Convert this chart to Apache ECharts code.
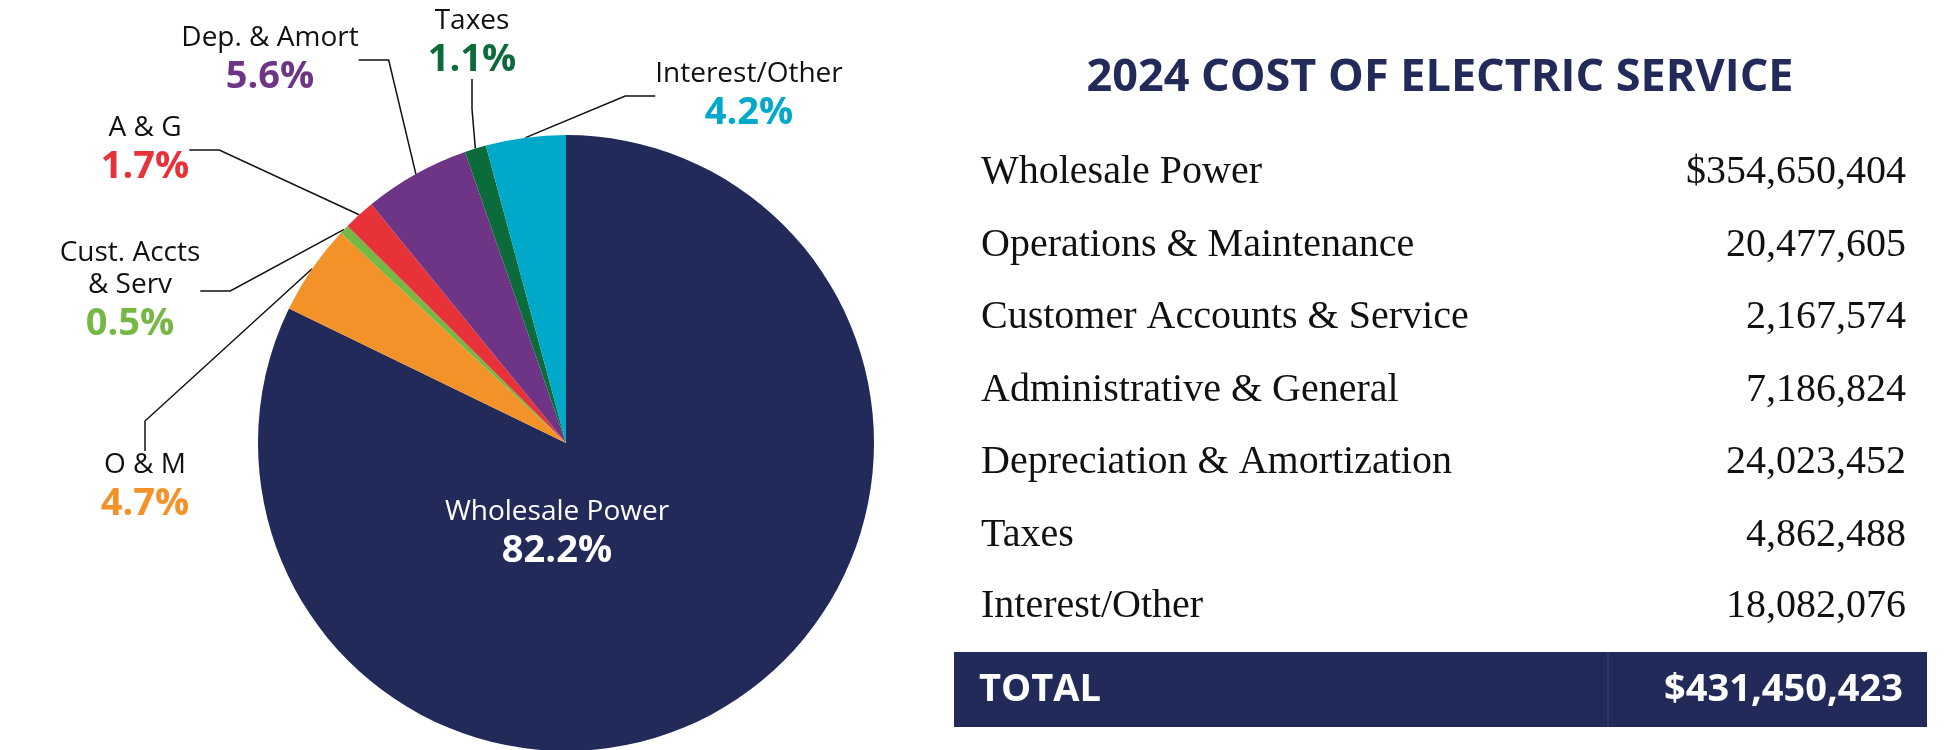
<!DOCTYPE html>
<html>
<head>
<meta charset="utf-8" />
<title>2024 Cost of Electric Service</title>
<script src="https://cdn.jsdelivr.net/npm/echarts@6/dist/echarts.min.js"></script>
<style>
  * { margin: 0; padding: 0; }
  body { background: #fff; }
  #main { width: 1950px; height: 750px; }
</style>
</head>
<body>
<div id="main"></div>
<script>
  // data
  var shortNames = ['Wholesale Power', 'O & M', 'Cust. Accts\n& Serv', 'A & G', 'Dep. & Amort', 'Taxes', 'Interest/Other'];
  var fullNames = ['Wholesale Power', 'Operations & Maintenance', 'Customer Accounts & Service', 'Administrative & General', 'Depreciation & Amortization', 'Taxes', 'Interest/Other'];
  var amounts = [354650404, 20477605, 2167574, 7186824, 24023452, 4862488, 18082076];
  var amountLabels = ['$354,650,404', '20,477,605', '2,167,574', '7,186,824', '24,023,452', '4,862,488', '18,082,076'];
  var totalLabel = '$431,450,423';
  var colors = ['#222a5a', '#f39229', '#76b843', '#e8323a', '#6e3587', '#0b6b3a', '#00a9c9'];

  // where each slice label sits
  var labelPos = [[557, 535], [145, 488], [130, 292], [145, 151], [270, 61], [472, 44], [749, 97]];

  var chart = echarts.init(document.getElementById('main'));
  var total = amounts.reduce(function (a, b) { return a + b; }, 0);

  var pieData = amounts.map(function (v, i) {
    var item = { name: shortNames[i], value: v, itemStyle: { color: colors[i] } };
    if (i === 0) {
      item.label = { color: '#fff', rich: { n: { color: '#fff' }, p: { color: '#fff' } } };
      item.labelLine = { show: false };
    }
    return item;
  });

  var graphics = [{
    type: 'text', left: 1440 - 0, top: 50,
    style: { text: '2024 COST OF ELECTRIC SERVICE', x: 0, y: 0, textAlign: 'center',
      font: 'bold 45px "Open Sans"', fill: '#222a5a' },
    position: [0, 0]
  }];
  graphics = [{
    type: 'text', x: 1440, y: 78,
    style: { text: '2024 COST OF ELECTRIC SERVICE', align: 'center', verticalAlign: 'middle',
      font: 'bold 45px "Open Sans"', fill: '#222a5a' }
  }];
  var rowY = [172, 245, 317, 390, 462, 535, 606];
  fullNames.forEach(function (n, i) {
    graphics.push({ type: 'text', x: 981, y: rowY[i],
      style: { text: n, align: 'left', verticalAlign: 'middle', font: '40px "Liberation Serif"', fill: '#111' } });
    graphics.push({ type: 'text', x: 1906, y: rowY[i],
      style: { text: amountLabels[i], align: 'right', verticalAlign: 'middle', font: '40px "Liberation Serif"', fill: '#111' } });
  });
  graphics.push({ type: 'rect', shape: { x: 954, y: 652, width: 973, height: 75 }, style: { fill: '#222a5a' } });
  graphics.push({ type: 'line', shape: { x1: 1608, y1: 652, x2: 1608, y2: 727 }, style: { stroke: '#3a4275', lineWidth: 1 } });
  graphics.push({ type: 'text', x: 979, y: 690,
    style: { text: 'TOTAL', align: 'left', verticalAlign: 'middle', font: 'bold 38px "Open Sans"', fill: '#fff' } });
  graphics.push({ type: 'text', x: 1903, y: 690,
    style: { text: totalLabel, align: 'right', verticalAlign: 'middle', font: 'bold 38px "Open Sans"', fill: '#fff' } });

  var option = {
    animation: false,
    graphic: graphics,
    series: [{
      type: 'pie',
      center: [566, 443],
      radius: 308,
      startAngle: 90,
      clockwise: true,
      data: pieData,
      label: {
        formatter: function (p) {
          return '{n|' + p.name + '}\n{p' + p.dataIndex + '|' + (p.value / total * 100).toFixed(1) + '%}';
        },
        align: 'center',
        rich: (function () {
          var r = { n: { fontFamily: 'Open Sans', fontSize: 28, color: '#111', lineHeight: 32, align: 'center' } };
          colors.forEach(function (c, i) {
            r['p' + i] = { fontFamily: 'Open Sans', fontWeight: 'bold', fontSize: 38, lineHeight: 46,
              color: i === 0 ? '#fff' : c, align: 'center' };
          });
          return r;
        })()
      },
      labelLine: { show: true, lineStyle: { color: '#111', width: 1.5 }, length: 20, length2: 30 },
      labelLayout: function (p) {
        var pos = labelPos[p.dataIndex];
        return { x: pos[0], y: pos[1], align: 'center', verticalAlign: 'middle' };
      }
    }]
  };
  chart.setOption(option);
</script>
</body>
</html>
